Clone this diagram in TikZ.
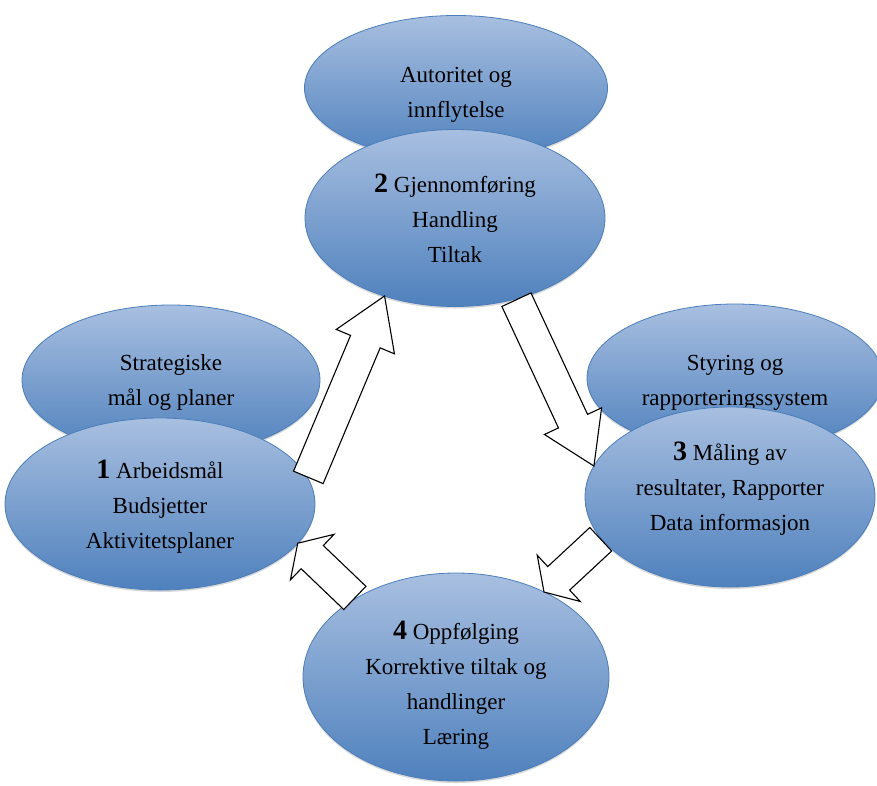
\documentclass[tikz,border=0pt]{standalone}
\usepackage{fontspec}
\setmainfont{Liberation Serif}
\usepackage{tikz}
\usepackage{xcolor}
\usetikzlibrary{shapes.geometric, shapes.arrows, shadows, calc}
\definecolor{cTop}{RGB}{168,191,224}
\definecolor{cBottom}{RGB}{79,129,189}
\definecolor{cEdge}{RGB}{74,126,187}
\tikzset{
	zone/.style={ellipse, draw=cEdge, line width=0.8pt, top color=cTop, bottom color=cBottom, align=center, inner sep=0pt, font=\fontsize{23}{35}\selectfont, drop shadow={shadow xshift=0pt, shadow yshift=-2pt, opacity=0.3, fill=black!50}},
	blockarrow/.style={single arrow, draw=black, fill=white, line width=1.1pt, inner xsep=0pt, inner ysep=15.5pt, single arrow head extend=15.5pt, minimum width=0pt},
	longhead/.style={single arrow tip angle=65},
	shorthead/.style={single arrow tip angle=115},
}
\newcommand{\stepno}[1]{{\fontsize{28}{30}\selectfont\bfseries #1}}
\newcommand{\topgap}[1]{\rule{0pt}{#1}}
\newcommand{\botgap}[1]{\rule[-#1]{0pt}{#1}}
\newcommand{\flowarrow}[3][]{%
	\path let \p1=(#2), \p2=(#3), \n1={atan2(\y2-\y1,\x2-\x1)}, \n2={veclen(\x2-\x1,\y2-\y1)} in
		node[blockarrow, #1, anchor=tail, rotate=\n1, minimum height=\n2] at (#2) {};}
\begin{document}
\begin{tikzpicture}[x=1pt, y=-1pt]
	\useasboundingbox (0,0) rectangle (877,785);
	\fill[white] (0,0) rectangle (877,785);
	% back row, then the four steps
	\node[zone, minimum width=298, minimum height=150] (es) at (171,380) {\topgap{20pt}Strategiske\\mål og planer};
	\node[zone, minimum width=310, minimum height=172] (e1) at (160,504) {\topgap{24pt}\stepno{1} Arbeidsmål\\Budsjetter\\Aktivitetsplaner};
	\node[zone, minimum width=303, minimum height=145] (ea) at (456,88) {\topgap{28pt}Autoritet og\\innflytelse};
	\node[zone, minimum width=300, minimum height=177] (e2) at (455,218) {\stepno{2} Gjennomføring\\Handling\\Tiltak};
	\node[zone, minimum width=296, minimum height=148] (et) at (735,378) {\topgap{25pt}Styring og\\rapporteringssystem};
	\node[zone, minimum width=290, minimum height=180] (e3) at (730,497) {\stepno{3} Måling av\\resultater, Rapporter\\Data informasjon\botgap{21pt}};
	\node[zone, minimum width=306, minimum height=208] (e4) at (456,677) {\topgap{34pt}\stepno{4} Oppfølging\\Korrektive tiltak og\\handlinger\\Læring};
	\flowarrow[longhead]{e1.10}{e2.228}
	\flowarrow[longhead]{e2.307}{e3.167}
	\flowarrow[shorthead]{e3.198}{e4.44}
	\flowarrow[shorthead]{e4.142}{e1.344}
\end{tikzpicture}
\end{document}
